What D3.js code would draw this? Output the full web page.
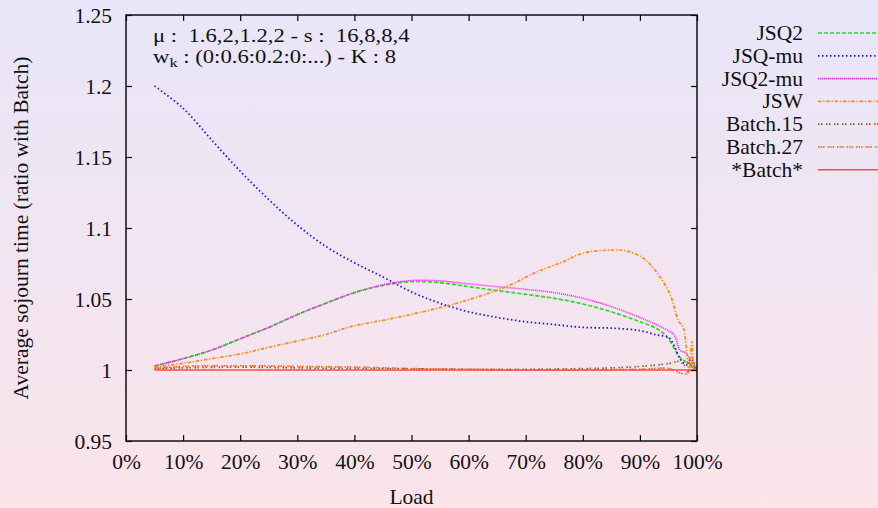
<!DOCTYPE html>
<html><head><meta charset="utf-8">
<script src="https://cdn.jsdelivr.net/npm/d3@7"></script>
<style>body{margin:0;padding:0;overflow:hidden;}svg{display:block;}</style>
</head><body>
<svg id="c" width="878" height="508"></svg>
<script>
// ---- data ----
const loadJSQ2 = [5,10,15,20,25,30,35,40,45,50,55,60,65,70,75,80,85,90,93,94.7,96.2,97,98,99,100];
const valJSQ2  = [1.0028,1.008,1.014,1.022,1.030,1.039,1.047,1.0545,1.0595,1.0622,1.0615,1.0587,1.0559,1.0533,1.0505,1.0465,1.041,1.034,1.029,1.0235,1.014,1.009,1.006,1.004,1.001];

const loadJSQmu = [5,10,15,20,25,30,35,40,45,50,55,60,65,70,75,80,85,90,93,95,96,97,98,99,100];
const valJSQmu  = [1.200,1.1843,1.162,1.140,1.120,1.102,1.087,1.0755,1.0655,1.055,1.047,1.041,1.037,1.034,1.032,1.030,1.0295,1.0277,1.0246,1.023,1.017,1.008,1.004,1.003,1.000];

const loadJSQ2mu = [5,10,15,20,25,30,35,40,45,50,55,60,65,70,75,80,85,90,93,96,97,98,99,100];
const valJSQ2mu  = [1.0028,1.008,1.014,1.022,1.030,1.039,1.047,1.0545,1.0600,1.063,1.0627,1.0606,1.0587,1.0568,1.0545,1.0505,1.0446,1.037,1.0317,1.0246,1.014,1.012,1.006,1.002];

const loadJSW = [5,10,15,20,25,30,35,39.3,45,50.9,56.8,62.6,67.3,71.9,76.6,80,85.3,87.7,90.5,92.9,95.3,96.7,97.6,98.2,98.6,99.1,99.5,100];
const valJSW  = [1.002,1.0047,1.008,1.0113,1.016,1.0204,1.0250,1.0305,1.035,1.040,1.0458,1.0528,1.0599,1.069,1.0763,1.0822,1.0845,1.0838,1.079,1.069,1.053,1.035,1.0296,1.012,0.998,1.02,1.0,1.003];

const loadB15 = [5,10,20,30,40,50,60,70,80,85,90,95,97,98,99,100];
const valB15  = [1.001,1.0015,1.002,1.0015,1.001,1.0008,1.0005,1.0005,1.001,1.0015,1.0025,1.0045,1.006,1.003,1.008,1.000];

const loadB27 = [5,10,20,30,40,50,60,70,80,90,95,97,98,99,100];
const valB27  = [1.001,1.0025,1.003,1.0025,1.002,1.001,1.0005,1.000,1.000,1.0005,1.001,0.998,0.997,1.002,1.000];

const loadBatch = [5,100];
const valBatch  = [1.0,1.0];

const seriesNames = ["JSQ2","JSQ-mu","JSQ2-mu","JSW","Batch.15","Batch.27","*Batch*"];
const xTicks = [0,10,20,30,40,50,60,70,80,90,100];
const yTicks = [0.95,1.0,1.05,1.1,1.15,1.2,1.25];

// ---- styles ----
const styles = [
  {color:"#22dd22", dash:"4,2", w:1.7},
  {color:"#1a1aee", dash:"1.5,2.5", w:1.8},
  {color:"#ee22ee", dash:"1,1", w:1.6},
  {color:"#ff8a10", dash:"3.5,1.8,1.2,1.8", w:1.7},
  {color:"#8b5a2b", dash:"1.5,1.5,1.5,3.5", w:1.7},
  {color:"#ff5a10", dash:"1.5,1,1.5,1,1.5,3", w:1.7},
  {color:"#ff4a4a", dash:null, w:1.6}
];
const data = [
  [loadJSQ2,valJSQ2],[loadJSQmu,valJSQmu],[loadJSQ2mu,valJSQ2mu],[loadJSW,valJSW],
  [loadB15,valB15],[loadB27,valB27],[loadBatch,valBatch]
];

const FONT = "Liberation Serif, Times New Roman, Tinos, DejaVu Serif, serif";
const svg = d3.select("#c");
const defs = svg.append("defs");
const g = defs.append("linearGradient").attr("id","bg").attr("x1",0).attr("y1",0).attr("x2",0).attr("y2",1);
g.append("stop").attr("offset","0%").attr("stop-color","#e8e6f9");
g.append("stop").attr("offset","100%").attr("stop-color","#fbe4ea");
svg.append("rect").attr("width",878).attr("height",508).attr("fill","url(#bg)");

const L=126, R=697, T=15, B=441;
const x = d3.scaleLinear().domain([0,100]).range([L,R]);
const y = d3.scaleLinear().domain([0.95,1.25]).range([B,T]);
const FS = 21.5;

defs.append("clipPath").attr("id","clip").append("rect").attr("x",L).attr("y",T).attr("width",R-L).attr("height",B-T);

const line = d3.line().x(d=>x(d[0])).y(d=>y(d[1])).curve(d3.curveCatmullRom.alpha(0.5));
const plot = svg.append("g").attr("clip-path","url(#clip)");
data.forEach((s,i)=>{
  const pts = s[0].map((v,j)=>[v,s[1][j]]);
  const p = plot.append("path").datum(pts).attr("d",line)
    .attr("fill","none").attr("stroke",styles[i].color).attr("stroke-width",styles[i].w);
  if(styles[i].dash) p.attr("stroke-dasharray",styles[i].dash);
});

const tk = 6;
const xb = svg.append("g").attr("transform",`translate(0,${B})`)
  .call(d3.axisBottom(x).tickValues(xTicks).tickSize(-tk).tickFormat(d=>d+"%").tickPadding(13));
const xt = svg.append("g").attr("transform",`translate(0,${T})`)
  .call(d3.axisTop(x).tickValues(xTicks).tickSize(-tk).tickFormat(""));
const yl = svg.append("g").attr("transform",`translate(${L},0)`)
  .call(d3.axisLeft(y).tickValues(yTicks).tickSize(-tk).tickFormat(d=>String(+d.toFixed(2))).tickPadding(14));
const yr = svg.append("g").attr("transform",`translate(${R},0)`)
  .call(d3.axisRight(y).tickValues(yTicks).tickSize(-tk).tickFormat(""));
[xb,xt,yl,yr].forEach(a=>{
  a.attr("font-family",FONT).attr("font-size",FS);
  a.select(".domain").remove();
  a.selectAll(".tick line").attr("stroke","#000").attr("stroke-width",1.2);
  a.selectAll("text").attr("font-family",FONT).attr("font-size",FS).attr("fill","#111");
});
yl.selectAll("text").attr("dy","0.33em");
xb.selectAll("text").attr("dy","0.71em");
svg.append("rect").attr("x",L).attr("y",T).attr("width",R-L).attr("height",B-T)
  .attr("fill","none").attr("stroke","#111").attr("stroke-width",1.5);

function txt(sel){ return (sel||svg).append("text").attr("font-family",FONT).attr("font-size",FS).attr("fill","#111"); }
txt().attr("x",(L+R)/2).attr("y",504).attr("text-anchor","middle").text("Load");
txt().attr("transform","translate(28,228) rotate(-90)").attr("text-anchor","middle")
  .text("Average sojourn time (ratio with Batch)");

// annotation (horizontally stretched like the reference rendering)
const annG = svg.append("g").attr("transform","translate(153,0) scale(1.26,1)");
txt(annG).attr("font-size",18).attr("x",0).attr("y",42.5).attr("xml:space","preserve")
  .text("μ :  1.6,2,1.2,2 - s :  16,8,8,4");
const t2 = txt(annG).attr("font-size",18).attr("x",0).attr("y",63.5);
t2.append("tspan").text("w");
t2.append("tspan").attr("dy",4).attr("font-size",13).text("k");
t2.append("tspan").attr("dy",-4).text(" : (0:0.6:0.2:0:...) - K : 8");

seriesNames.forEach((n,i)=>{
  const yy = 33 + i*22.8;
  txt().attr("x",803).attr("y",yy).attr("dy","0.33em").attr("text-anchor","end").text(n);
  const l = svg.append("line").attr("x1",818).attr("x2",878).attr("y1",yy).attr("y2",yy)
    .attr("stroke",styles[i].color).attr("stroke-width",styles[i].w);
  if(styles[i].dash) l.attr("stroke-dasharray",styles[i].dash);
});
</script>
</body></html>
